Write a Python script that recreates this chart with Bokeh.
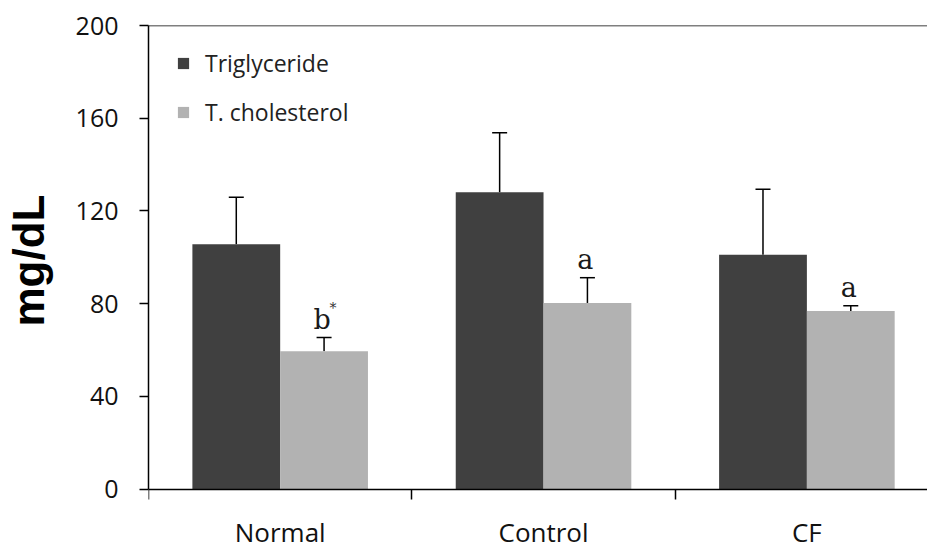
import numpy as np
from bokeh.plotting import figure
from bokeh.models import (ColumnDataSource, Range1d, FixedTicker, Whisker, TeeHead,
                          Legend, LegendItem, Span)
from bokeh.core.properties import value
from bokeh.embed import file_html
from bokeh.resources import INLINE

# Serum lipid levels per group (mean and upper SD bar, mg/dL)
groups = ["Normal", "Control", "CF"]
triglyceride = [105.6, 128.1, 101.1]
triglyceride_sd = [20.3, 25.6, 28.3]
cholesterol = [59.5, 80.3, 76.8]
cholesterol_sd = [5.9, 10.9, 2.3]
chol_marks = ["b", "a", "a"]
y_ticks = [0, 40, 80, 120, 160, 200]

DARK = "#404040"
LIGHT = "#b2b2b2"
FONT = "Open Sans"

idx = np.arange(len(groups))
centers = idx + 0.5
bar_w = 1 / 3

tg = ColumnDataSource(dict(x=centers - bar_w / 2, top=triglyceride,
                           upper=np.add(triglyceride, triglyceride_sd)))
tc = ColumnDataSource(dict(x=centers + bar_w / 2, top=cholesterol,
                           upper=np.add(cholesterol, cholesterol_sd),
                           mark=chol_marks))
cats = ColumnDataSource(dict(x=centers, y=np.zeros(len(groups)), name=groups))

# the frame runs to the bottom edge so the group names sit inside it,
# below the zero line where the x axis is drawn
p = figure(width=927, height=544, output_backend="svg", toolbar_location=None,
           x_range=Range1d(0, 2.958), y_range=Range1d(-23.9, 200),
           x_axis_location="above",
           min_border_left=147, min_border_right=0, min_border_top=25,
           min_border_bottom=0)
p.outline_line_color = None
p.grid.visible = False
p.background_fill_color = "white"
p.border_fill_color = "white"

r_tg = p.vbar(x="x", top="top", width=bar_w, source=tg, fill_color=DARK, line_color=None)
r_tc = p.vbar(x="x", top="top", width=bar_w, source=tc, fill_color=LIGHT, line_color=None)

for src in (tg, tc):
    w = Whisker(base="x", lower="top", upper="upper", source=src,
                line_color="black", line_width=1.5,
                upper_head=TeeHead(size=15, line_color="black", line_width=1.5),
                lower_head=None)
    p.add_layout(w)

# significance letters above the cholesterol bars
p.text(x="x", y="upper", text="mark", source=tc, text_font=value("DejaVu Serif"),
       text_font_size="27px", text_color="#1a1a1a", text_align="center",
       text_baseline="alphabetic", x_offset=-2, y_offset=-18)
star = ColumnDataSource(dict(x=tc.data["x"][:1], y=tc.data["upper"][:1], t=["*"]))
p.text(x="x", y="y", text="t", source=star, text_font=value("DejaVu Serif"),
       text_font_size="14px", text_color="#333333", text_align="center",
       text_baseline="alphabetic", x_offset=9, y_offset=-30)

# group names under the zero line
p.text(x="x", y="y", text="name", source=cats, text_font=value(FONT),
       text_font_size="26px", text_color="#111111", text_align="center",
       text_baseline="alphabetic", y_offset=43)

# top frame line
p.add_layout(Span(location=200, dimension="width", line_color="black", line_width=1.5))

# x axis pinned to y = 0, tick marks between the groups pointing down
xa = p.xaxis[0]
xa.fixed_location = 0
xa.ticker = FixedTicker(ticks=[0, 1, 2, 3], minor_ticks=[])
xa.major_label_overrides = {0: "", 1: "", 2: "", 3: ""}
xa.major_tick_out = 0
xa.major_tick_in = 10
xa.major_tick_line_color = "black"
xa.major_tick_line_width = 1.5
xa.axis_line_color = "black"
xa.axis_line_width = 1.5
xa.major_label_text_font_size = "0px"
xa.major_label_standoff = 0

ya = p.yaxis[0]
ya.bounds = (0, 200)
ya.ticker = FixedTicker(ticks=y_ticks, minor_ticks=[])
ya.major_tick_out = 9
ya.major_tick_in = 0
ya.major_tick_line_color = "black"
ya.major_tick_line_width = 1.5
ya.axis_line_color = "black"
ya.axis_line_width = 1.5
ya.major_label_text_font = FONT
ya.major_label_text_font_size = "25px"
ya.major_label_text_color = "#111111"
ya.major_label_standoff = 21
# leading no-break spaces lift the title so it centres on the 0-200 span
ya.axis_label = "\u00a0" * 4 + "mg/dL"
ya.axis_label_text_font = "Liberation Sans"
ya.axis_label_text_font_style = "bold"
ya.axis_label_text_font_size = "44px"
ya.axis_label_text_color = "black"
ya.axis_label_standoff = 20

legend = Legend(items=[LegendItem(label="Triglyceride", renderers=[r_tg]),
                       LegendItem(label="T. cholesterol", renderers=[r_tc])],
                location=(28, 416), orientation="vertical",
                glyph_width=14, glyph_height=14, label_standoff=15,
                label_text_font=FONT, label_text_font_size="23px",
                label_text_color="#222222", spacing=17, padding=0, margin=0,
                border_line_color=None, background_fill_alpha=0)
p.add_layout(legend)

open("out.html", "w").write(file_html(p, INLINE))
